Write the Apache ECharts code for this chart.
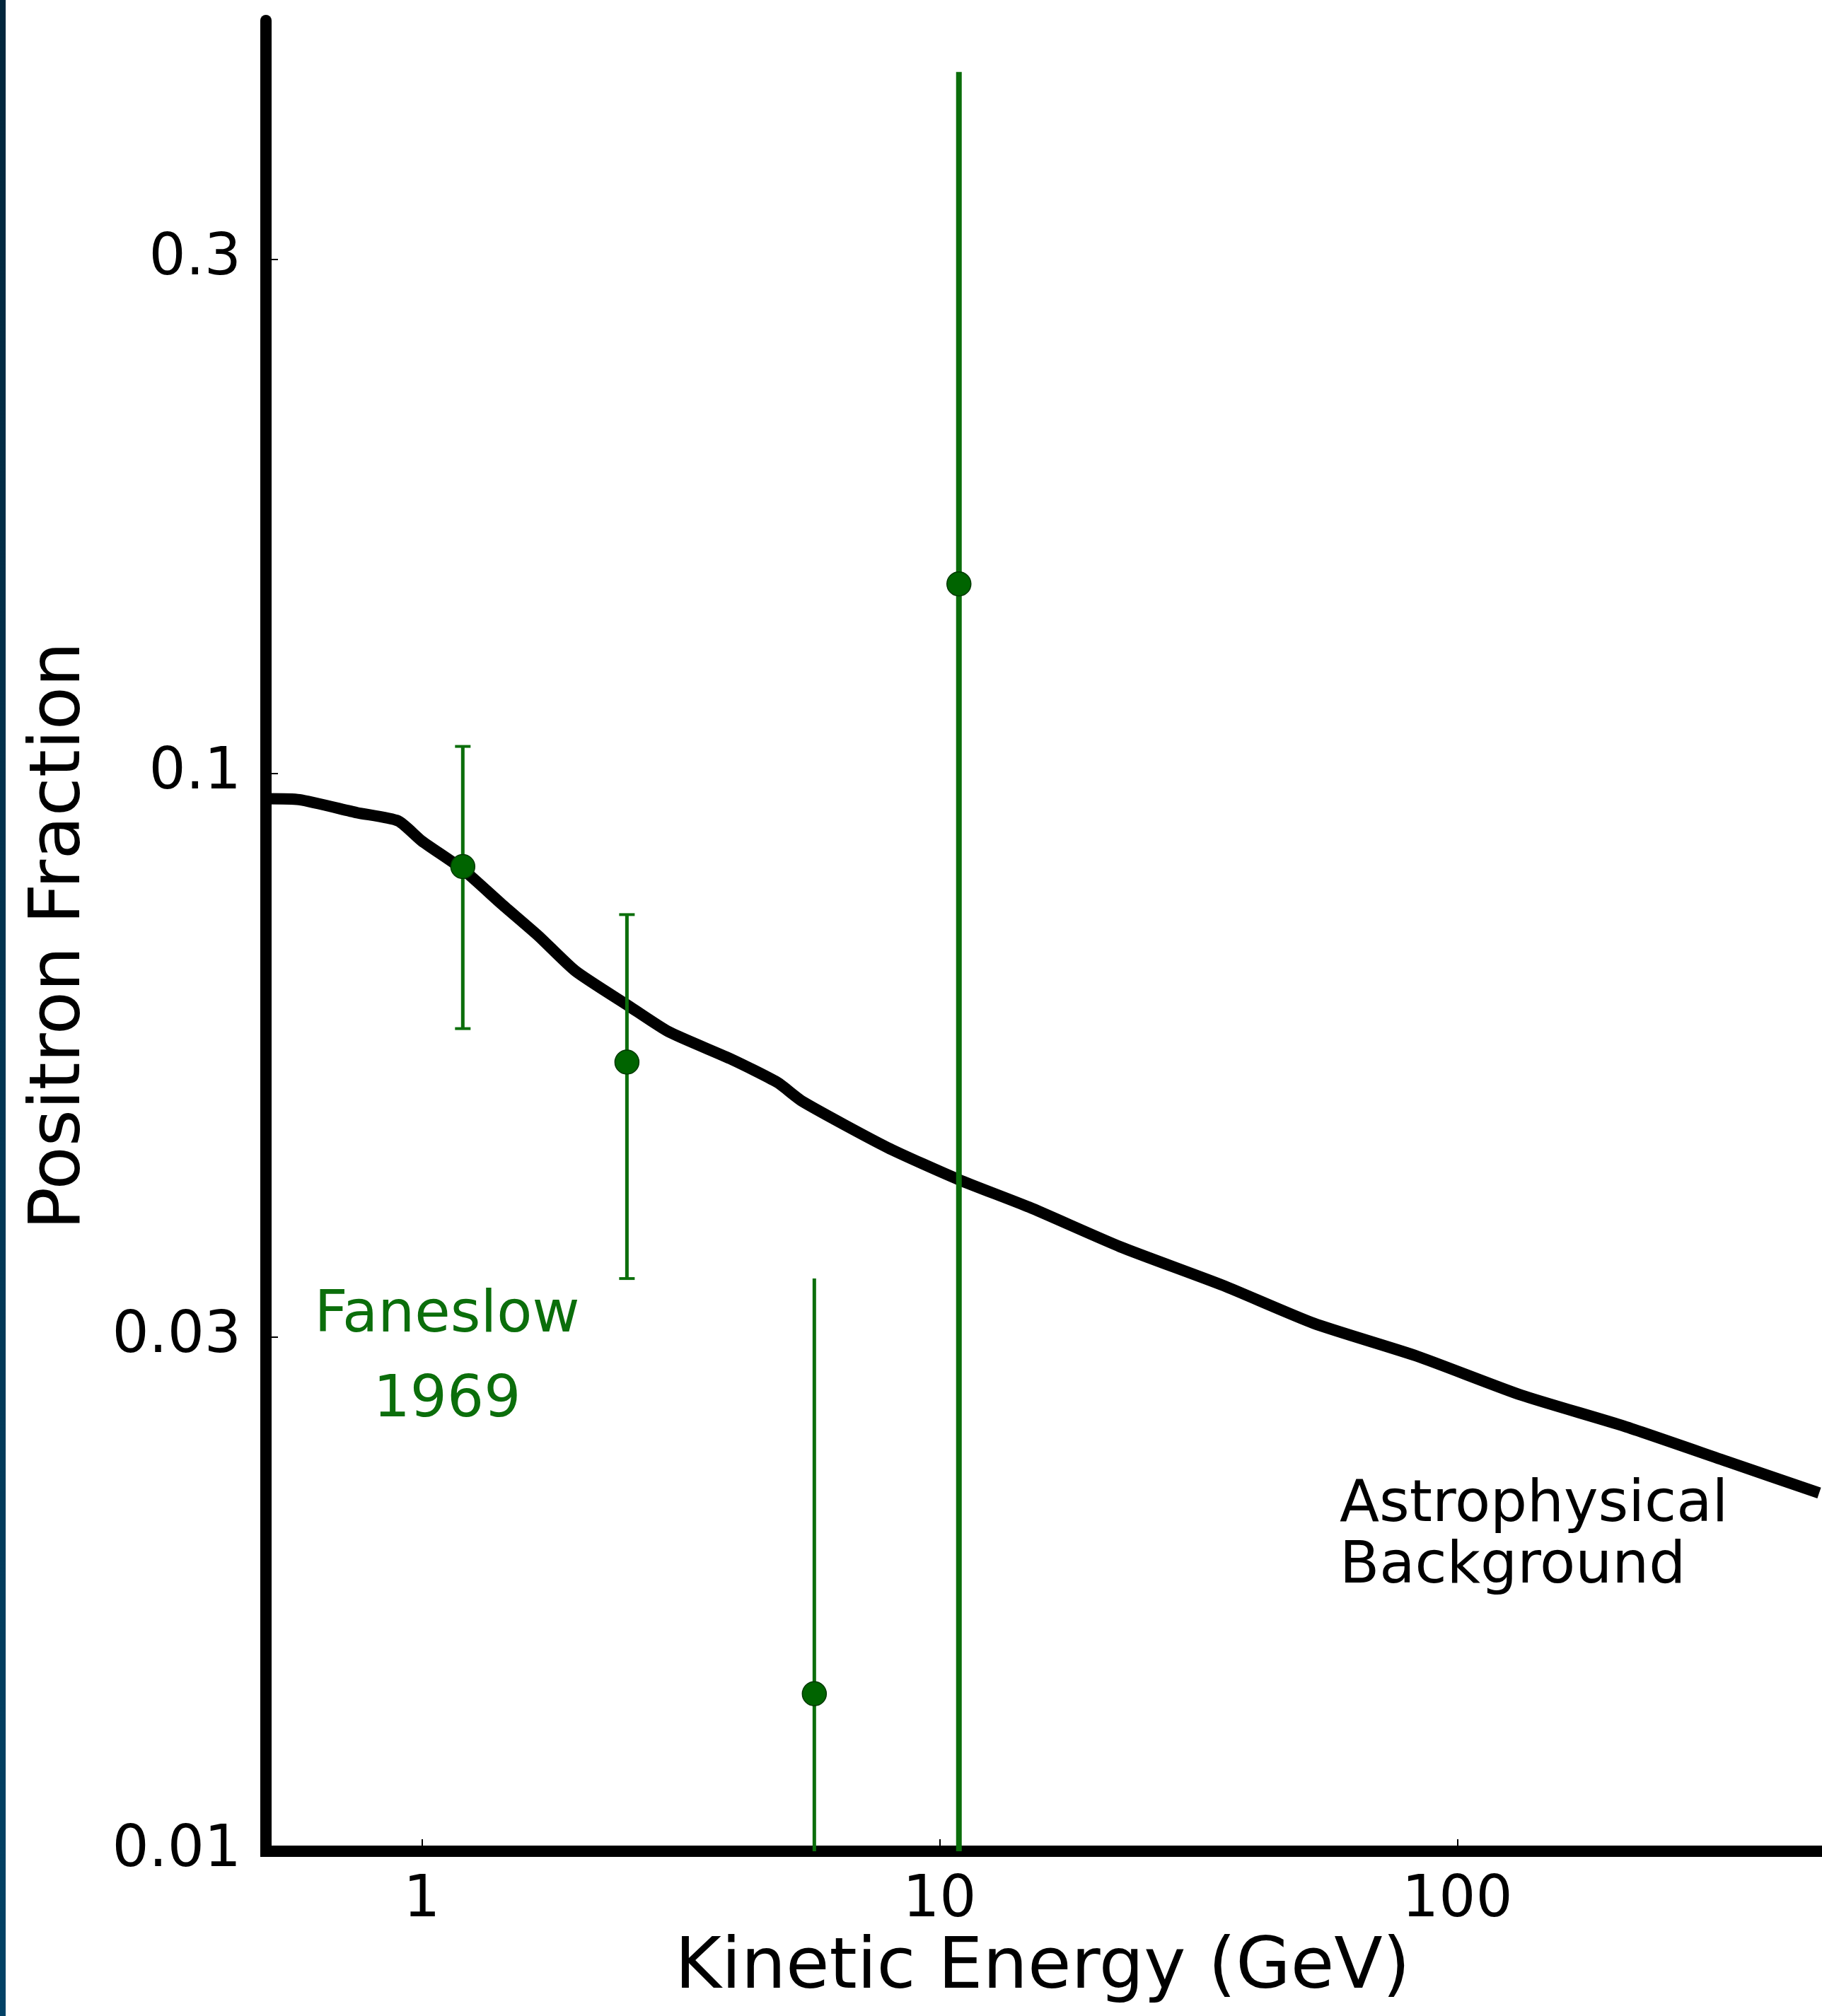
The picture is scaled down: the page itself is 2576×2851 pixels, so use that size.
<!DOCTYPE html>
<html>
<head>
<meta charset="utf-8">
<script src="https://cdn.jsdelivr.net/npm/echarts@6/dist/echarts.min.js"></script>
<style>
html, body { margin: 0; padding: 0; background: #fff; }
#chart { width: 2576px; height: 2851px; }
</style>
</head>
<body>
<div id="chart"></div>
<script>
// astrophysical background curve (GeV, fraction)
const bgEnergy = [0.5, 0.58, 0.75, 0.9, 1.0, 1.2, 1.43, 1.68, 1.98, 2.52, 3.0, 3.97, 4.86, 5.45, 7.92, 10.9, 14.9, 22.3, 35.3, 52.8, 83.7, 133, 210, 332, 500];
const bgFraction = [0.0948, 0.0946, 0.092, 0.0904, 0.0866, 0.0815, 0.0756, 0.0707, 0.0656, 0.0608, 0.0576, 0.0543, 0.0517, 0.0496, 0.045, 0.042, 0.0396, 0.0364, 0.0335, 0.0309, 0.0288, 0.0265, 0.0248, 0.023, 0.0215];
// Faneslow 1969 points and their errors
const fanEnergy = [1.2, 2.49, 5.73, 10.9];
const fanFraction = [0.082, 0.054, 0.014, 0.15];
const fanError = [0.024, 0.020, 0.020, 0.298];
// tick labels
const xTicks = [1, 10, 100];
const yTicks = [0.01, 0.03, 0.1, 0.3];

const green = '#0b6e0b';
const barWidths = [5, 5, 5, 8];
const font = 'DejaVu Sans';

const chart = echarts.init(document.getElementById('chart'));

const fmt = v => String(parseFloat(Number(v).toPrecision(6)));

const option = {
  backgroundColor: '#fff',
  animation: false,
  grid: { left: 376, right: 4, top: 29, bottom: 233, containLabel: false, outerBoundsMode: 'none' },
  xAxis: {
    type: 'log',
    logBase: 10,
    min: 0.5,
    max: 500,
    name: 'Kinetic Energy (GeV)',
    nameLocation: 'middle',
    nameGap: 98,
    nameTextStyle: { fontSize: 100, fontFamily: font, color: '#000' },
    axisLine: { lineStyle: { color: '#000', width: 16, cap: 'square' } },
    axisTick: { inside: true, length: 17, customValues: xTicks, lineStyle: { color: '#000', width: 2 } },
    axisLabel: { customValues: xTicks, fontSize: 82, fontFamily: font, color: '#000', margin: 30, formatter: fmt },
    splitLine: { show: false },
    minorTick: { show: false }
  },
  yAxis: {
    type: 'log',
    logBase: 10,
    min: 0.01,
    max: 0.5,
    name: 'Positron Fraction',
    nameLocation: 'middle',
    nameGap: 240,
    nameTextStyle: { fontSize: 100, fontFamily: font, color: '#000' },
    axisLine: { lineStyle: { color: '#000', width: 16 } },
    axisTick: { inside: true, length: 17, customValues: yTicks, lineStyle: { color: '#000', width: 2 } },
    axisLabel: { customValues: yTicks, fontSize: 82, fontFamily: font, color: '#000', margin: 35, formatter: fmt },
    splitLine: { show: false },
    minorTick: { show: false }
  },
  series: [
    {
      type: 'line',
      data: bgEnergy.map((e, i) => [e, bgFraction[i]]),
      showSymbol: false,
      smooth: 0.2,
      lineStyle: { color: '#000', width: 16 },
      z: 2
    },
    {
      type: 'custom',
      data: fanEnergy.map((e, i) => [e, fanFraction[i], fanError[i]]),
      renderItem: function (params, api) {
        const x = api.value(0);
        const y = api.value(1);
        const err = api.value(2);
        const lo = y - err;
        const top = api.coord([x, y + err]);
        const bottom = api.coord([x, lo > 0 ? lo : 0.01]);
        const children = [{
          type: 'line',
          shape: { x1: top[0], y1: top[1], x2: bottom[0], y2: bottom[1] },
          style: { stroke: green, lineWidth: barWidths[params.dataIndex] }
        }];
        // caps only when the whole bar is on the log scale
        if (lo > 0) {
          [top, bottom].forEach(p => {
            children.push({
              type: 'line',
              shape: { x1: p[0] - 11, y1: p[1], x2: p[0] + 11, y2: p[1] },
              style: { stroke: green, lineWidth: 4 }
            });
          });
        }
        return { type: 'group', children: children };
      },
      z: 3
    },
    {
      type: 'scatter',
      data: fanEnergy.map((e, i) => [e, fanFraction[i]]),
      symbolSize: 34,
      itemStyle: { color: '#006400', borderColor: '#003800', borderWidth: 1.5, opacity: 1 },
      z: 4
    }
  ],
  graphic: [
    {
      type: 'rect',
      left: 0,
      top: 0,
      shape: { width: 8, height: 2851 },
      style: {
        fill: new echarts.graphic.LinearGradient(0, 0, 0, 1, [
          { offset: 0, color: '#02263c' },
          { offset: 1, color: '#024266' }
        ])
      }
    },
    {
      type: 'text',
      x: 632,
      y: 1922,
      style: {
        text: 'Faneslow\n1969',
        fill: green,
        font: '82px "DejaVu Sans"',
        lineHeight: 120,
        align: 'center',
        verticalAlign: 'middle'
      }
    },
    {
      type: 'text',
      x: 1894,
      y: 2173,
      style: {
        text: 'Astrophysical\nBackground',
        fill: '#000',
        font: '82px "DejaVu Sans"',
        lineHeight: 87,
        align: 'left',
        verticalAlign: 'middle'
      }
    }
  ]
};

chart.setOption(option);
</script>
</body>
</html>
